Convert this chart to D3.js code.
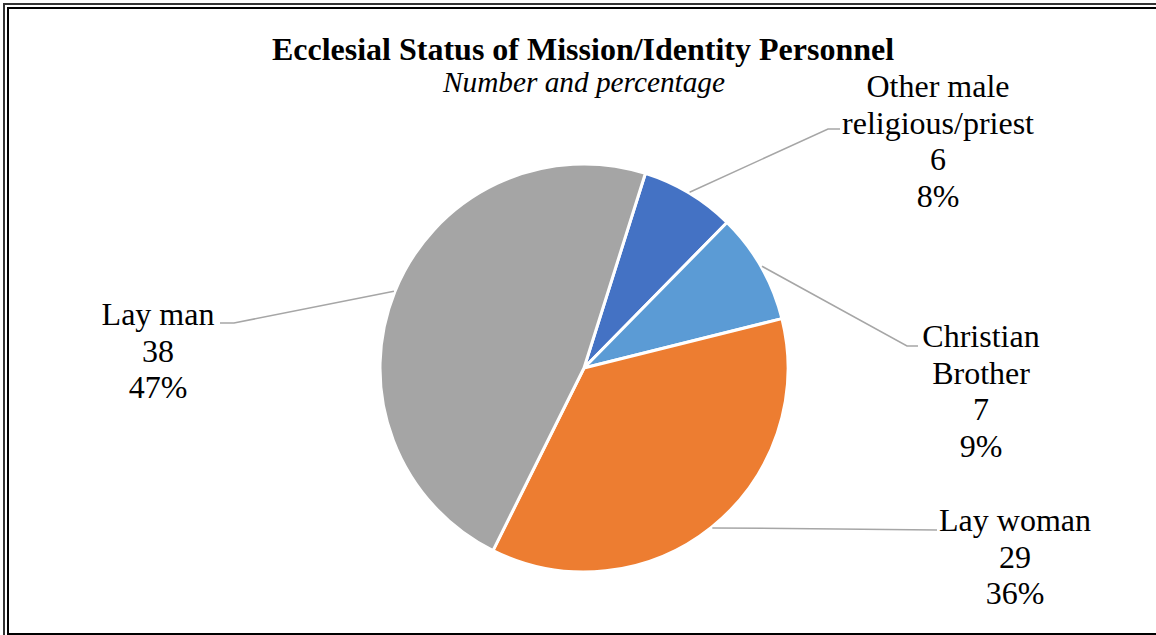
<!DOCTYPE html>
<html>
<head>
<meta charset="utf-8">
<script src="https://cdn.jsdelivr.net/npm/d3@7"></script>
<style>
  html, body { margin: 0; padding: 0; background: #fff; }
  svg { display: block; }
  text { font-family: "Liberation Serif", "Times New Roman", serif; fill: #000; }
</style>
</head>
<body>
<svg id="chart" width="1156" height="635"></svg>
<script>
// ---- data ----
const categories = ["Other male religious/priest", "Christian Brother", "Lay woman", "Lay man"];
const values = [6, 7, 29, 38];
const percentLabels = ["8%", "9%", "36%", "47%"];
const labelLines = [["Other male", "religious/priest"], ["Christian", "Brother"], ["Lay woman"], ["Lay man"]];
const colors = ["#4472C4", "#5B9BD5", "#ED7D31", "#A5A5A5"];
const titleText = "Ecclesial Status of Mission/Identity Personnel";
const subtitleText = "Number and percentage";

// ---- layout ----
const W = 1156, H = 635;
const cx = 584, cy = 368, R = 204;
const startDeg = 17.5;
const lineH = 36.7;
// label block layout: center x, first baseline, elbow point, end of leader
const labelLayout = [
  { x: 938, y: 97,  elbow: [828, 129], end: [840, 129] },
  { x: 981, y: 347, elbow: [907, 346], end: [918, 346] },
  { x: 1015, y: 531, elbow: null, end: [937, 530] },
  { x: 158, y: 325, elbow: [234, 323], end: [220, 323] }
];

const svg = d3.select("#chart");

// frame (double line)
svg.append("rect").attr("x", 4).attr("y", 4).attr("width", W + 20).attr("height", H + 20)
  .attr("fill", "none").attr("stroke", "#333").attr("stroke-width", 2);
svg.append("rect").attr("x", 8).attr("y", 8).attr("width", W + 10).attr("height", 626)
  .attr("fill", "none").attr("stroke", "#000").attr("stroke-width", 2);

// title
svg.append("text").attr("x", 583).attr("y", 60).attr("text-anchor", "middle")
  .style("font-size", "32px").style("font-weight", "bold").text(titleText);
svg.append("text").attr("x", 584).attr("y", 92).attr("text-anchor", "middle")
  .style("font-size", "29.3px").style("font-style", "italic").text(subtitleText);

// pie
const data = categories.map((c, i) => ({ cat: c, value: values[i], i }));
const pie = d3.pie().sort(null).value(d => d.value)
  .startAngle(startDeg * Math.PI / 180)
  .endAngle(startDeg * Math.PI / 180 + 2 * Math.PI);
const arcs = pie(data);
const arc = d3.arc().innerRadius(0).outerRadius(R);
const edgeArc = d3.arc().innerRadius(R + 1).outerRadius(R + 1);

const g = svg.append("g").attr("transform", `translate(${cx},${cy})`);
g.selectAll("path.slice").data(arcs).enter().append("path")
  .attr("class", "slice")
  .attr("d", arc)
  .attr("fill", d => colors[d.data.i])
  .attr("stroke", "#fff")
  .attr("stroke-width", 3)
  .attr("stroke-linejoin", "round");

// leader lines
arcs.forEach(a => {
  const L = labelLayout[a.data.i];
  const c = edgeArc.centroid(a);
  const start = [cx + c[0], cy + c[1]];
  const pts = [start];
  if (L.elbow) pts.push(L.elbow);
  pts.push(L.end);
  svg.append("path")
    .attr("d", d3.line()(pts))
    .attr("fill", "none")
    .attr("stroke", "#A6A6A6")
    .attr("stroke-width", 1.5);
});

// labels
arcs.forEach(a => {
  const i = a.data.i;
  const L = labelLayout[i];
  const lines = labelLines[i].concat([String(values[i]), percentLabels[i]]);
  const t = svg.append("text").attr("text-anchor", "middle").style("font-size", "32px");
  lines.forEach((s, k) => {
    t.append("tspan").attr("x", L.x).attr("y", L.y + k * lineH).text(s);
  });
});
</script>
</body>
</html>
